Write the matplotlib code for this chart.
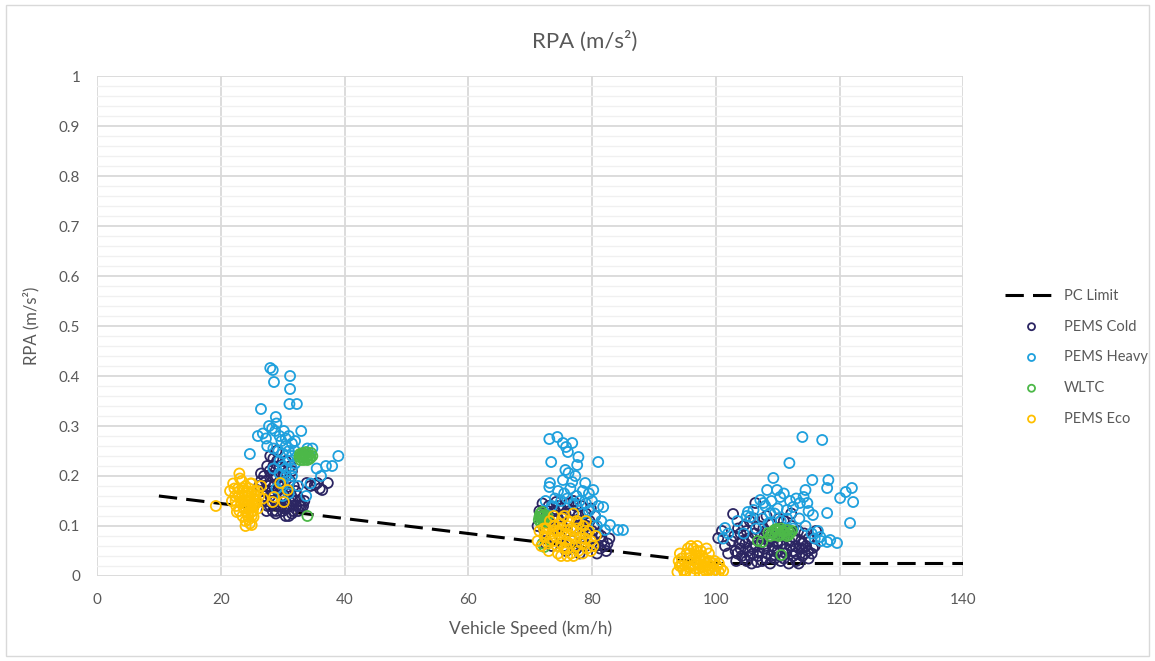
import numpy as np
import matplotlib
matplotlib.use("Agg")
from matplotlib import pyplot as plt
from matplotlib.ticker import MultipleLocator

plt.rcParams['font.family'] = ['Lato', 'DejaVu Sans']

# PC limit line
pc_speed = [10, 100, 140]
pc_rpa = [0.16, 0.025, 0.025]

cold_pts = [
    # low speed
    (26.0, 0.17), (26.5, 0.19), (26.8, 0.15), (27.0, 0.20), (27.2, 0.17), (27.5, 0.22), (27.6, 0.14),
    (27.8, 0.18), (28.0, 0.24), (28.0, 0.16), (28.2, 0.20), (28.4, 0.13), (28.5, 0.22), (28.6, 0.18),
    (28.8, 0.15), (29.0, 0.25), (29.0, 0.20), (29.2, 0.17), (29.3, 0.14), (29.5, 0.22), (29.6, 0.19),
    (29.8, 0.16), (30.0, 0.13), (30.0, 0.21), (30.2, 0.18), (30.4, 0.15), (30.5, 0.23), (30.6, 0.20),
    (30.8, 0.17), (31.0, 0.14), (31.0, 0.12), (31.2, 0.19), (31.4, 0.16), (31.5, 0.21), (31.7, 0.13),
    (31.8, 0.18), (32.0, 0.15), (32.2, 0.14), (32.5, 0.13), (32.8, 0.15), (33.0, 0.14), (33.3, 0.14),
    (33.5, 0.15), (29.0, 0.13), (28.0, 0.14), (27.0, 0.16), (30.5, 0.12), (31.5, 0.125), (26.5, 0.205),
    (28.5, 0.235), (33.9, 0.186), (35.2, 0.182), (35.6, 0.186), (36.4, 0.172), (37.3, 0.186),
    (36.0, 0.175), (34.5, 0.18),
    (27.3, 0.19), (27.9, 0.21), (28.3, 0.17), (28.7, 0.20), (29.1, 0.23), (29.4, 0.18), (29.7, 0.14),
    (30.1, 0.20), (30.3, 0.16), (30.7, 0.14), (31.1, 0.17), (31.3, 0.22), (31.6, 0.15), (32.1, 0.17),
    (32.4, 0.16), (32.7, 0.14), (28.9, 0.125), (30.2, 0.135), (26.2, 0.18), (27.4, 0.13),
    # mid speed
    (71.2, 0.10), (71.5, 0.13), (72.0, 0.145), (72.3, 0.09), (72.6, 0.12), (73.0, 0.14), (73.2, 0.105),
    (73.5, 0.075), (73.8, 0.13), (74.0, 0.095), (74.2, 0.148), (74.5, 0.115), (74.8, 0.08), (75.0, 0.135),
    (75.2, 0.10), (75.5, 0.06), (75.7, 0.125), (76.0, 0.09), (76.2, 0.145), (76.5, 0.11), (76.8, 0.07),
    (77.0, 0.13), (77.3, 0.095), (77.5, 0.055), (77.8, 0.12), (78.0, 0.085), (78.3, 0.14), (78.5, 0.105),
    (78.8, 0.065), (79.0, 0.125), (79.3, 0.09), (79.6, 0.11), (80.0, 0.075), (80.3, 0.10), (80.6, 0.06),
    (81.0, 0.085), (81.3, 0.055), (81.7, 0.07), (82.0, 0.06), (82.5, 0.065), (82.8, 0.075), (80.5, 0.12),
    (79.8, 0.135), (73.5, 0.06), (72.5, 0.065), (75.8, 0.05), (74.0, 0.13), (77.0, 0.15), (78.0, 0.045),
    (71.8, 0.12), (72.8, 0.13), (73.6, 0.115), (74.6, 0.14), (75.4, 0.12), (76.4, 0.13), (77.4, 0.14),
    (78.2, 0.11), (79.2, 0.10), (80.0, 0.09), (81.5, 0.08), (82.3, 0.05), (79.0, 0.06), (80.8, 0.045),
    # high speed
    (100.4, 0.076), (101.5, 0.06), (102.0, 0.045), (102.8, 0.124), (103.0, 0.08), (103.3, 0.03),
    (103.6, 0.095), (104.0, 0.055), (104.3, 0.07), (104.6, 0.035), (105.0, 0.09), (105.2, 0.05),
    (105.5, 0.11), (105.8, 0.025), (106.0, 0.075), (106.4, 0.146), (106.5, 0.06), (106.8, 0.04),
    (107.0, 0.10), (107.3, 0.08), (107.5, 0.03), (107.8, 0.055), (108.0, 0.09), (108.3, 0.045),
    (108.5, 0.07), (108.8, 0.025), (109.0, 0.105), (109.2, 0.06), (109.5, 0.035), (109.8, 0.08),
    (110.0, 0.05), (110.3, 0.095), (110.5, 0.03), (110.8, 0.065), (111.0, 0.11), (111.3, 0.045),
    (111.5, 0.08), (111.8, 0.025), (112.0, 0.06), (112.3, 0.10), (112.5, 0.04), (112.8, 0.075),
    (113.0, 0.03), (113.3, 0.09), (113.5, 0.055), (113.8, 0.07), (114.0, 0.04), (114.3, 0.085),
    (114.6, 0.06), (115.0, 0.075), (115.7, 0.056), (116.2, 0.09), (104.5, 0.10), (106.2, 0.115),
    (108.2, 0.12), (110.2, 0.115), (112.2, 0.125), (103.8, 0.065), (105.5, 0.04), (107.0, 0.05),
    (109.0, 0.04), (111.0, 0.035), (113.0, 0.045), (115.0, 0.035), (102.5, 0.07), (101.0, 0.09),
    (103.2, 0.05), (104.2, 0.04), (104.8, 0.065), (105.3, 0.075), (105.9, 0.055), (106.3, 0.085),
    (106.7, 0.028), (107.2, 0.065), (107.7, 0.095), (108.1, 0.035), (108.6, 0.085), (109.1, 0.075),
    (109.4, 0.05), (109.9, 0.065), (110.4, 0.04), (110.9, 0.08), (111.4, 0.055), (111.9, 0.07),
    (112.4, 0.05), (112.9, 0.06), (113.4, 0.025), (113.9, 0.055), (114.4, 0.045), (114.9, 0.05),
    (105.0, 0.03), (106.0, 0.045), (108.0, 0.06), (110.0, 0.07), (112.0, 0.09), (114.0, 0.065),
    (115.5, 0.045), (116.0, 0.06), (104.0, 0.085), (103.5, 0.045),
]

heavy_pts = [
    # low speed
    (28.0, 0.416), (28.4, 0.412), (28.6, 0.388), (31.2, 0.40), (31.2, 0.374), (31.1, 0.344),
    (32.3, 0.344), (26.5, 0.334), (28.9, 0.318), (24.7, 0.244), (26.0, 0.28), (26.8, 0.285),
    (27.3, 0.275), (27.8, 0.30), (28.3, 0.295), (28.8, 0.29), (29.0, 0.305), (29.5, 0.28), (29.8, 0.27),
    (30.2, 0.29), (30.5, 0.275), (31.0, 0.28), (31.5, 0.265), (32.0, 0.27), (33.0, 0.29), (27.5, 0.26),
    (28.5, 0.255), (29.3, 0.25), (30.0, 0.245), (30.5, 0.26), (31.0, 0.25), (31.5, 0.24), (32.0, 0.25),
    (29.5, 0.23), (30.0, 0.22), (30.5, 0.215), (31.0, 0.23), (31.5, 0.215), (32.0, 0.225), (30.5, 0.20),
    (31.0, 0.19), (31.5, 0.20), (29.5, 0.205), (28.5, 0.215), (30.0, 0.185), (34.0, 0.255),
    (34.8, 0.255), (39.0, 0.24), (37.0, 0.22), (38.0, 0.22), (35.5, 0.215), (36.2, 0.20), (34.5, 0.185),
    (33.8, 0.16), (32.5, 0.18), (29.0, 0.175), (31.0, 0.165), (30.0, 0.16),
    # mid speed
    (73.1, 0.274), (74.4, 0.278), (75.3, 0.266), (76.8, 0.266), (75.8, 0.258), (76.1, 0.248),
    (77.8, 0.238), (73.4, 0.228), (77.6, 0.222), (81.0, 0.228), (75.7, 0.212), (76.2, 0.206),
    (77.3, 0.20), (75.3, 0.192), (76.8, 0.188), (78.9, 0.186), (73.2, 0.186), (73.1, 0.178),
    (80.2, 0.172), (74.5, 0.17), (75.5, 0.165), (76.5, 0.175), (77.5, 0.16), (78.5, 0.17), (79.5, 0.165),
    (74.0, 0.155), (75.0, 0.15), (76.0, 0.155), (77.0, 0.145), (78.0, 0.15), (79.0, 0.145), (80.0, 0.15),
    (81.0, 0.14), (81.8, 0.138), (79.5, 0.13), (80.5, 0.12), (81.5, 0.11), (82.9, 0.102), (84.2, 0.092),
    (85.0, 0.092), (82.1, 0.092), (80.8, 0.10), (78.5, 0.125), (72.5, 0.15), (73.5, 0.14),
    # high speed
    (114.0, 0.278), (117.2, 0.272), (111.9, 0.226), (109.3, 0.196), (115.6, 0.192), (118.2, 0.192),
    (122.0, 0.176), (121.0, 0.168), (118.0, 0.176), (120.1, 0.156), (122.2, 0.148), (121.7, 0.106),
    (114.5, 0.172), (114.2, 0.158), (114.8, 0.146), (108.3, 0.172), (109.9, 0.172), (107.2, 0.152),
    (110.4, 0.158), (105.2, 0.128), (101.5, 0.096), (118.0, 0.126), (115.7, 0.122), (116.9, 0.078),
    (118.5, 0.072), (119.6, 0.066), (118.0, 0.068), (107.7, 0.146), (106.1, 0.132), (112.5, 0.138),
    (113.6, 0.146), (111.5, 0.132), (108.8, 0.126), (105.6, 0.118), (104.5, 0.085), (106.5, 0.095),
    (108.5, 0.105), (110.5, 0.11), (112.5, 0.095), (113.5, 0.115), (114.5, 0.10), (115.5, 0.085),
    (116.5, 0.09), (103.5, 0.11), (102.0, 0.085), (101.2, 0.075), (107.5, 0.115), (109.5, 0.125),
    (111.5, 0.115), (105.0, 0.12), (116.0, 0.075), (117.0, 0.07), (115.0, 0.13), (113.0, 0.155),
    (111.0, 0.165), (109.0, 0.15), (112.0, 0.15), (110.0, 0.135), (108.0, 0.14),
]

wltc_pts = [
    (32.7, 0.238), (33.0, 0.242), (33.3, 0.236), (33.6, 0.244), (33.9, 0.238), (34.2, 0.242),
    (34.5, 0.236), (33.2, 0.246), (34.0, 0.232), (32.9, 0.232), (34.6, 0.246), (33.5, 0.240),
    (32.8, 0.244), (33.4, 0.232), (34.3, 0.234), (33.8, 0.248), (33.1, 0.238), (34.8, 0.240),
    (34.0, 0.12),
    (71.4, 0.112), (71.7, 0.118), (72.0, 0.112), (72.3, 0.122), (72.6, 0.115), (71.8, 0.105),
    (72.2, 0.106), (71.6, 0.124), (71.5, 0.118), (72.4, 0.110), (72.0, 0.120), (72.8, 0.120),
    (71.9, 0.128), (72.0, 0.065), (72.3, 0.058),
    (108.8, 0.08), (109.2, 0.088), (109.6, 0.082), (110.0, 0.09), (110.4, 0.084), (110.8, 0.09),
    (111.2, 0.085), (111.6, 0.092), (112.0, 0.086), (109.5, 0.092), (110.5, 0.095), (111.5, 0.08),
    (109.0, 0.085), (110.2, 0.08), (111.0, 0.088), (112.3, 0.09), (109.8, 0.094), (111.8, 0.082),
    (108.5, 0.086), (107.5, 0.068), (110.6, 0.042), (106.8, 0.07),
]

eco_pts = [
    # low speed
    (19.2, 0.140), (21.5, 0.170), (21.8, 0.150), (22.0, 0.185), (22.3, 0.160), (22.5, 0.140),
    (22.8, 0.175), (23.0, 0.205), (23.0, 0.130), (23.2, 0.155), (23.4, 0.190), (23.5, 0.120),
    (23.6, 0.170), (23.8, 0.145), (24.0, 0.180), (24.0, 0.110), (24.1, 0.135), (24.3, 0.160),
    (24.4, 0.125), (24.5, 0.150), (24.6, 0.175), (24.8, 0.140), (25.0, 0.165), (25.0, 0.120),
    (25.2, 0.130), (25.4, 0.155), (25.5, 0.170), (25.7, 0.145), (26.0, 0.135), (26.2, 0.160),
    (26.5, 0.180), (23.3, 0.148), (24.2, 0.142), (24.9, 0.128), (22.6, 0.128), (23.9, 0.165),
    (25.3, 0.118), (24.7, 0.105), (23.1, 0.195), (25.8, 0.150), (28.4, 0.148), (28.6, 0.158),
    (29.6, 0.186), (30.2, 0.148), (30.8, 0.172), (24.0, 0.100), (25.0, 0.102), (26.8, 0.155),
    (22.2, 0.175), (24.5, 0.113),
    (23.5, 0.160), (24.2, 0.170), (24.7, 0.155), (25.1, 0.145), (23.7, 0.135), (24.4, 0.120),
    (25.6, 0.160), (22.9, 0.160), (24.0, 0.150), (25.3, 0.140), (23.5, 0.175), (24.8, 0.185),
    (22.4, 0.150), (26.0, 0.170), (25.0, 0.185),
    # mid speed
    (71.2, 0.07), (71.5, 0.09), (71.8, 0.06), (72.2, 0.095), (72.3, 0.08), (72.6, 0.095), (72.9, 0.065),
    (73.2, 0.11), (73.5, 0.085), (73.8, 0.07), (74.0, 0.10), (74.3, 0.06), (74.6, 0.09), (74.9, 0.075),
    (75.2, 0.115), (75.5, 0.055), (75.8, 0.085), (76.0, 0.10), (76.3, 0.065), (76.6, 0.045),
    (76.9, 0.09), (77.2, 0.075), (77.5, 0.11), (77.8, 0.05), (78.0, 0.085), (78.3, 0.065), (78.6, 0.10),
    (78.9, 0.075), (79.2, 0.055), (79.5, 0.09), (79.8, 0.07), (80.2, 0.06), (80.6, 0.08), (73.0, 0.05),
    (74.5, 0.045), (75.0, 0.04), (76.0, 0.04), (77.0, 0.04), (75.5, 0.12), (77.0, 0.125), (73.8, 0.12),
    (76.5, 0.08), (75.0, 0.095), (74.0, 0.08), (77.5, 0.095), (78.5, 0.045), (79.0, 0.11),
    (72.5, 0.085), (73.3, 0.075), (74.2, 0.09), (75.0, 0.065), (75.8, 0.07), (76.6, 0.095),
    (77.4, 0.06), (78.2, 0.075), (79.0, 0.085), (73.8, 0.10), (76.2, 0.11), (74.8, 0.105),
    (77.8, 0.105), (79.8, 0.05), (76.0, 0.055),
    # high speed
    (93.8, 0.008), (94.2, 0.02), (94.5, 0.035), (94.8, 0.012), (95.0, 0.028), (95.3, 0.045),
    (95.6, 0.018), (95.9, 0.006), (96.1, 0.032), (96.4, 0.055), (96.6, 0.015), (96.9, 0.04),
    (97.1, 0.025), (97.4, 0.008), (97.6, 0.05), (97.9, 0.018), (98.1, 0.035), (98.4, 0.01),
    (98.6, 0.028), (98.9, 0.045), (99.1, 0.015), (99.4, 0.006), (99.6, 0.025), (99.9, 0.012),
    (100.2, 0.02), (100.5, 0.008), (100.8, 0.015), (101.2, 0.01), (96.0, 0.06), (97.0, 0.06),
    (95.5, 0.055), (98.5, 0.055), (94.0, 0.03), (97.5, 0.03), (96.5, 0.005), (99.0, 0.03),
    (100.0, 0.005), (98.0, 0.005), (95.0, 0.005),
    (94.5, 0.02), (95.2, 0.01), (95.7, 0.035), (96.3, 0.02), (96.8, 0.028), (97.3, 0.015),
    (97.8, 0.04), (98.3, 0.02), (98.8, 0.012), (99.3, 0.02), (99.8, 0.03), (95.8, 0.045),
    (96.9, 0.05), (97.3, 0.035), (98.0, 0.03), (100.5, 0.025), (94.2, 0.045),
]

series = [
    ('PEMS Cold', cold_pts, '#2B2562'),
    ('PEMS Heavy', heavy_pts, '#1EA0DD'),
    ('WLTC', wltc_pts, '#4CB848'),
    ('PEMS Eco', eco_pts, '#FFC000'),
]

fig = plt.figure(figsize=(11.55, 6.61), dpi=100)
ax = fig.add_axes([0.084, 0.1286, 0.750, 0.7564])

ax.plot(pc_speed, pc_rpa, color='black', linestyle=(0, (6, 3)), linewidth=2.2, label='PC Limit', zorder=2)

for name, pts, color in series:
    arr = np.array(pts)
    ax.scatter(arr[:, 0], arr[:, 1], s=52, facecolors='none', edgecolors=color,
               linewidths=1.3, label=name, zorder=3)

ax.set_xlim(0, 140)
ax.set_ylim(0, 1)
ax.xaxis.set_major_locator(MultipleLocator(20))
ax.yaxis.set_minor_locator(MultipleLocator(0.02))
ax.set_yticks([0, 0.1, 0.2, 0.3, 0.4, 0.5, 0.6, 0.7, 0.8, 0.9, 1])
ax.set_yticklabels(['0', '0.1', '0.2', '0.3', '0.4', '0.5', '0.6', '0.7', '0.8', '0.9', '1'])
ax.grid(which='major', color='#D9D9D9', linewidth=1.3, zorder=0)
ax.grid(which='minor', axis='y', color='#F0F0F0', linewidth=1.0, zorder=0)
ax.set_axisbelow(True)
for s in ax.spines.values():
    s.set_visible(False)
ax.tick_params(which='both', length=0, labelsize=11, labelcolor='#595959', pad=12)

fig.text(0.506, 0.938, 'RPA (m/s²)', fontsize=16, color='#595959', ha='center', va='center')
ax.set_xlabel('Vehicle Speed (km/h)', fontsize=12.5, color='#595959', labelpad=10)
ax.set_ylabel('RPA (m/s²)', fontsize=12, color='#595959', labelpad=14)

leg = fig.legend(loc='upper left', bbox_to_anchor=(0.859, 0.583), frameon=False, fontsize=10.5,
                 labelcolor='#595959', markerscale=0.7, handlelength=3.6, labelspacing=1.15,
                 handletextpad=0.4)

# chart border
fig.patches.append(plt.Rectangle((0.005, 0.008), 0.99, 0.984, transform=fig.transFigure,
                                 fill=False, edgecolor='#D9D9D9', linewidth=1.0))

fig.savefig('out.png', dpi=100)
